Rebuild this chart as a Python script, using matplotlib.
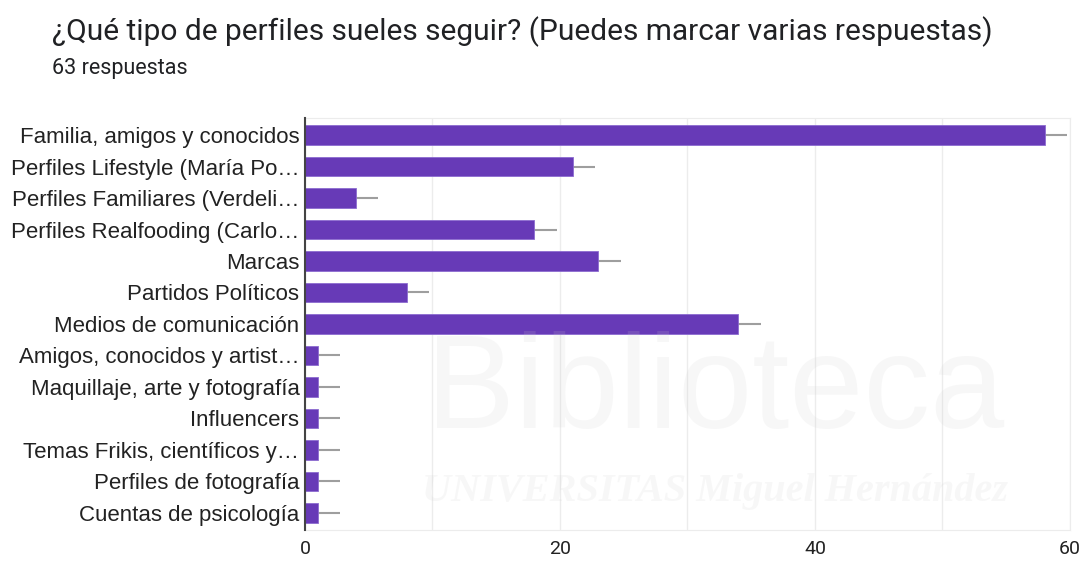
import matplotlib
matplotlib.use("Agg")
import matplotlib.pyplot as plt

categories = [
    "Familia, amigos y conocidos",
    "Perfiles Lifestyle (María Po…",
    "Perfiles Familiares (Verdeli…",
    "Perfiles Realfooding (Carlo…",
    "Marcas",
    "Partidos Políticos",
    "Medios de comunicación",
    "Amigos, conocidos y artist…",
    "Maquillaje, arte y fotografía",
    "Influencers",
    "Temas Frikis, científicos y…",
    "Perfiles de fotografía",
    "Cuentas de psicología",
]
counts = [58, 21, 4, 18, 23, 8, 34, 1, 1, 1, 1, 1, 1]
x_ticks = [0, 20, 40, 60]

title = "¿Qué tipo de perfiles sueles seguir? (Puedes marcar varias respuestas)"
subtitle = "63 respuestas"

purple = "#673ab7"

fig = plt.figure(figsize=(10.83, 5.62), dpi=100)
fig.set_facecolor("white")
ax = fig.add_axes([0.2816, 0.057, 0.7064, 0.733])

ypos = list(range(len(categories)))
ax.errorbar(counts, ypos, xerr=1.75, fmt="none", ecolor="#9e9e9e",
            elinewidth=1.5, capsize=0, zorder=1)
ax.barh(ypos, counts, height=0.63, color=purple, edgecolor="#8c6bd0",
        linewidth=0.6, zorder=2)

ax.set_xlim(0, 60)
ax.set_ylim(12.54, -0.54)
ax.set_xticks(x_ticks)
ax.set_xticks(range(10, 60, 20), minor=True)
ax.set_yticks(ypos)
ax.set_yticklabels(categories, family="Liberation Sans", fontsize=16, color="#222222")
for lbl in ax.get_xticklabels():
    lbl.set_family("Roboto")
    lbl.set_fontsize(14)
    lbl.set_color("#222222")
ax.tick_params(axis="both", which="both", length=0)
ax.tick_params(axis="y", pad=4)
ax.tick_params(axis="x", pad=7)
ax.grid(axis="x", which="both", color="#ececec", linewidth=1, zorder=0)
ax.set_axisbelow(True)

for side in ["top", "right", "bottom"]:
    ax.spines[side].set_color("#ececec")
ax.spines["left"].set_color("#444444")
ax.spines["left"].set_linewidth(1.5)
ax.spines["left"].set_zorder(5)

# faint library watermark across the plot
fig.text(0.66, 0.30, "Biblioteca", fontsize=96, family="Liberation Sans",
         color="#cccccc", alpha=0.15, ha="center", va="center", zorder=10)
fig.text(0.66, 0.125, "UNIVERSITAS Miguel Hernández", fontsize=29,
         family="Liberation Serif", style="italic", weight="bold",
         color="#cccccc", alpha=0.15, ha="center", va="center", zorder=10)

fig.text(0.048, 0.944, title, fontsize=21.5, family="Roboto", color="#202124",
         ha="left", va="center")
fig.text(0.048, 0.878, subtitle, fontsize=15.5, family="Roboto", color="#202124",
         ha="left", va="center")

fig.savefig("out.png", dpi=100, facecolor="white")
